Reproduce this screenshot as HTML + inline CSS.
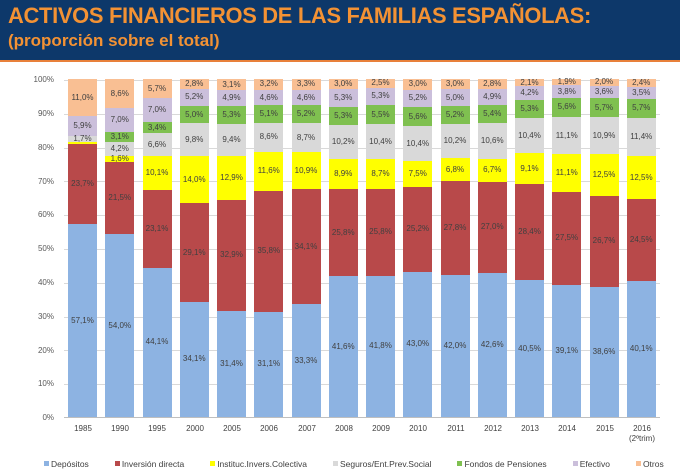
<!DOCTYPE html>
<html><head><meta charset="utf-8"><style>
*{margin:0;padding:0;box-sizing:border-box}
body{width:680px;height:474px;background:#fff;font-family:"Liberation Sans",sans-serif;position:relative;overflow:hidden}
#hdr{position:absolute;left:0;top:0;width:680px;height:62px;background:#0d386a;border-bottom:2px solid #e8803a}
#hdr .t1{position:absolute;left:8px;top:3px;color:#f39234;font-size:21.9px;font-weight:bold;letter-spacing:-0.3px}
#hdr .t2{position:absolute;left:8px;top:31px;color:#f39234;font-size:17px;font-weight:bold}
#plot{position:absolute;left:64px;top:80px;width:596px;height:338px;border-bottom:1px solid #bfbfbf}
.g{position:absolute;left:0;width:596px;height:1px;background:#d9d9d9}
.yl{position:absolute;left:20px;width:34px;text-align:right;font-size:8px;color:#595959}
.bar{position:absolute;bottom:0;width:29px;height:338px;display:flex;flex-direction:column-reverse}
.bar div{display:flex;align-items:center;justify-content:center;font-size:8px;color:#404040;overflow:visible;white-space:nowrap;line-height:1}
.a{background:#8db3e2}.b{background:#b8494a}.c{background:#ffff00}.d{background:#d9d9d9}.e{background:#7fc050}.f{background:#cbbfdb}.h{background:#f9bf93}
.xl{position:absolute;top:424px;width:40px;text-align:center;font-size:8px;color:#404040;line-height:10px}
#leg{position:absolute;top:459px;left:44px;font-size:8.5px;color:#404040;white-space:nowrap}
#leg span{margin-right:26px}
#leg i{display:inline-block;width:5px;height:5px;margin-right:2px;vertical-align:1px}
</style></head><body>
<div id="hdr"><div class="t1">ACTIVOS FINANCIEROS DE LAS FAMILIAS ESPAÑOLAS:</div><div class="t2">(proporción sobre el total)</div></div>
<div class="yl" style="top:75px">100%</div><div class="yl" style="top:109px">90%</div><div class="yl" style="top:143px">80%</div><div class="yl" style="top:177px">70%</div><div class="yl" style="top:210px">60%</div><div class="yl" style="top:244px">50%</div><div class="yl" style="top:278px">40%</div><div class="yl" style="top:312px">30%</div><div class="yl" style="top:346px">20%</div><div class="yl" style="top:379px">10%</div><div class="yl" style="top:413px">0%</div>
<div id="plot">
<div class="g" style="top:0"></div><div class="g" style="top:33.8px"></div><div class="g" style="top:67.6px"></div><div class="g" style="top:101.4px"></div><div class="g" style="top:135.2px"></div><div class="g" style="top:169px"></div><div class="g" style="top:202.8px"></div><div class="g" style="top:236.6px"></div><div class="g" style="top:270.4px"></div><div class="g" style="top:304.2px"></div>
<div class="bar" style="left:4px"><div class="a" style="height:57.1%">57,1%</div><div class="b" style="height:23.7%">23,7%</div><div class="c" style="height:0.6%"></div><div class="d" style="height:1.7%">1,7%</div><div class="f" style="height:5.9%">5,9%</div><div class="h" style="height:11%">11,0%</div></div>
<div class="bar" style="left:41.25px"><div class="a" style="height:54%">54,0%</div><div class="b" style="height:21.5%">21,5%</div><div class="c" style="height:1.6%">1,6%</div><div class="d" style="height:4.2%">4,2%</div><div class="e" style="height:3.1%">3,1%</div><div class="f" style="height:7%">7,0%</div><div class="h" style="height:8.6%">8,6%</div></div>
<div class="bar" style="left:78.5px"><div class="a" style="height:44.1%">44,1%</div><div class="b" style="height:23.1%">23,1%</div><div class="c" style="height:10.1%">10,1%</div><div class="d" style="height:6.6%">6,6%</div><div class="e" style="height:3.4%">3,4%</div><div class="f" style="height:7%">7,0%</div><div class="h" style="height:5.7%">5,7%</div></div>
<div class="bar" style="left:115.75px"><div class="a" style="height:34.1%">34,1%</div><div class="b" style="height:29.1%">29,1%</div><div class="c" style="height:14%">14,0%</div><div class="d" style="height:9.8%">9,8%</div><div class="e" style="height:5%">5,0%</div><div class="f" style="height:5.2%">5,2%</div><div class="h" style="height:2.8%">2,8%</div></div>
<div class="bar" style="left:153px"><div class="a" style="height:31.4%">31,4%</div><div class="b" style="height:32.9%">32,9%</div><div class="c" style="height:12.9%">12,9%</div><div class="d" style="height:9.4%">9,4%</div><div class="e" style="height:5.3%">5,3%</div><div class="f" style="height:4.9%">4,9%</div><div class="h" style="height:3.1%">3,1%</div></div>
<div class="bar" style="left:190.25px"><div class="a" style="height:31.1%">31,1%</div><div class="b" style="height:35.8%">35,8%</div><div class="c" style="height:11.6%">11,6%</div><div class="d" style="height:8.6%">8,6%</div><div class="e" style="height:5.1%">5,1%</div><div class="f" style="height:4.6%">4,6%</div><div class="h" style="height:3.2%">3,2%</div></div>
<div class="bar" style="left:227.5px"><div class="a" style="height:33.3%">33,3%</div><div class="b" style="height:34.1%">34,1%</div><div class="c" style="height:10.9%">10,9%</div><div class="d" style="height:8.7%">8,7%</div><div class="e" style="height:5.2%">5,2%</div><div class="f" style="height:4.6%">4,6%</div><div class="h" style="height:3.2%">3,3%</div></div>
<div class="bar" style="left:264.75px"><div class="a" style="height:41.6%">41,6%</div><div class="b" style="height:25.8%">25,8%</div><div class="c" style="height:8.9%">8,9%</div><div class="d" style="height:10.2%">10,2%</div><div class="e" style="height:5.3%">5,3%</div><div class="f" style="height:5.3%">5,3%</div><div class="h" style="height:2.9%">3,0%</div></div>
<div class="bar" style="left:302px"><div class="a" style="height:41.8%">41,8%</div><div class="b" style="height:25.8%">25,8%</div><div class="c" style="height:8.7%">8,7%</div><div class="d" style="height:10.4%">10,4%</div><div class="e" style="height:5.5%">5,5%</div><div class="f" style="height:5.3%">5,3%</div><div class="h" style="height:2.5%">2,5%</div></div>
<div class="bar" style="left:339.25px"><div class="a" style="height:43%">43,0%</div><div class="b" style="height:25.2%">25,2%</div><div class="c" style="height:7.5%">7,5%</div><div class="d" style="height:10.4%">10,4%</div><div class="e" style="height:5.6%">5,6%</div><div class="f" style="height:5.2%">5,2%</div><div class="h" style="height:3.1%">3,0%</div></div>
<div class="bar" style="left:376.5px"><div class="a" style="height:42%">42,0%</div><div class="b" style="height:27.8%">27,8%</div><div class="c" style="height:6.8%">6,8%</div><div class="d" style="height:10.2%">10,2%</div><div class="e" style="height:5.2%">5,2%</div><div class="f" style="height:5%">5,0%</div><div class="h" style="height:3%">3,0%</div></div>
<div class="bar" style="left:413.75px"><div class="a" style="height:42.6%">42,6%</div><div class="b" style="height:27%">27,0%</div><div class="c" style="height:6.7%">6,7%</div><div class="d" style="height:10.6%">10,6%</div><div class="e" style="height:5.4%">5,4%</div><div class="f" style="height:4.9%">4,9%</div><div class="h" style="height:2.8%">2,8%</div></div>
<div class="bar" style="left:451px"><div class="a" style="height:40.5%">40,5%</div><div class="b" style="height:28.4%">28,4%</div><div class="c" style="height:9.1%">9,1%</div><div class="d" style="height:10.4%">10,4%</div><div class="e" style="height:5.3%">5,3%</div><div class="f" style="height:4.2%">4,2%</div><div class="h" style="height:2.1%">2,1%</div></div>
<div class="bar" style="left:488.25px"><div class="a" style="height:39.1%">39,1%</div><div class="b" style="height:27.5%">27,5%</div><div class="c" style="height:11.1%">11,1%</div><div class="d" style="height:11.1%">11,1%</div><div class="e" style="height:5.6%">5,6%</div><div class="f" style="height:3.8%">3,8%</div><div class="h" style="height:1.8%">1,9%</div></div>
<div class="bar" style="left:525.5px"><div class="a" style="height:38.6%">38,6%</div><div class="b" style="height:26.7%">26,7%</div><div class="c" style="height:12.5%">12,5%</div><div class="d" style="height:10.9%">10,9%</div><div class="e" style="height:5.7%">5,7%</div><div class="f" style="height:3.6%">3,6%</div><div class="h" style="height:2%">2,0%</div></div>
<div class="bar" style="left:562.75px"><div class="a" style="height:40.1%">40,1%</div><div class="b" style="height:24.5%">24,5%</div><div class="c" style="height:12.5%">12,5%</div><div class="d" style="height:11.4%">11,4%</div><div class="e" style="height:5.7%">5,7%</div><div class="f" style="height:3.5%">3,5%</div><div class="h" style="height:2.3%">2,4%</div></div>
</div>
<div class="xl" style="left:63px">1985</div><div class="xl" style="left:100px">1990</div><div class="xl" style="left:137px">1995</div><div class="xl" style="left:175px">2000</div><div class="xl" style="left:212px">2005</div><div class="xl" style="left:249px">2006</div><div class="xl" style="left:287px">2007</div><div class="xl" style="left:324px">2008</div><div class="xl" style="left:361px">2009</div><div class="xl" style="left:398px">2010</div><div class="xl" style="left:436px">2011</div><div class="xl" style="left:473px">2012</div><div class="xl" style="left:510px">2013</div><div class="xl" style="left:547px">2014</div><div class="xl" style="left:585px">2015</div><div class="xl" style="left:622px">2016<br>(2ºtrim)</div>
<div id="leg"><span><i class="a"></i>Depósitos</span><span><i class="b"></i>Inversión directa</span><span><i class="c"></i>Instituc.Invers.Colectiva</span><span><i class="d"></i>Seguros/Ent.Prev.Social</span><span><i class="e"></i>Fondos de Pensiones</span><span><i class="f"></i>Efectivo</span><span><i class="h"></i>Otros</span></div>
</body></html>
